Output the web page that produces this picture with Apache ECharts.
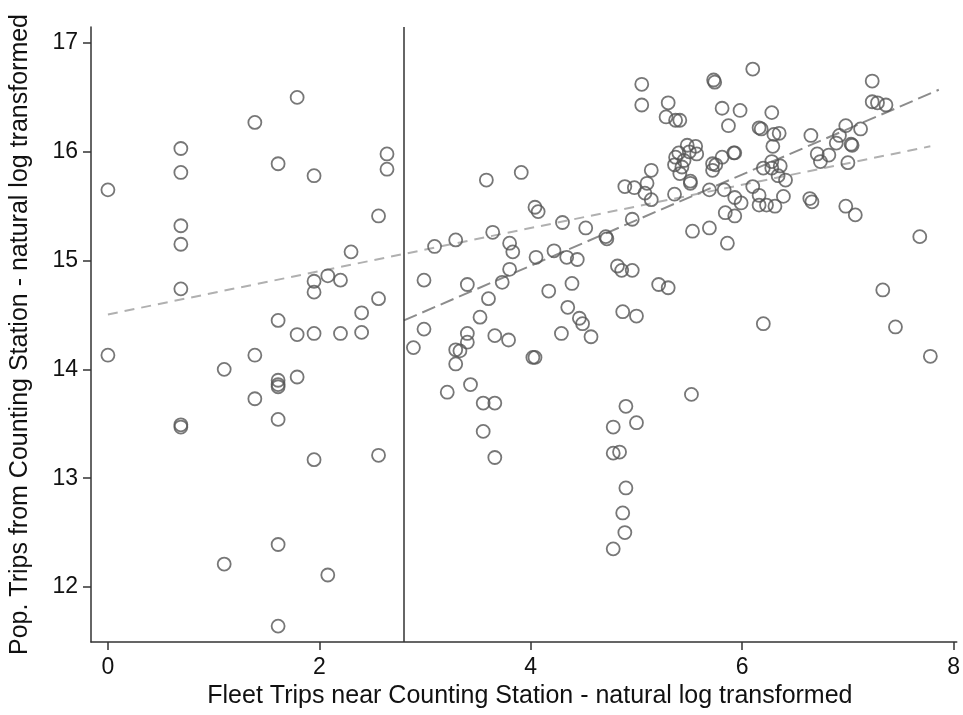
<!DOCTYPE html>
<html>
<head>
<meta charset="utf-8">
<script src="https://cdn.jsdelivr.net/npm/echarts@6/dist/echarts.min.js"></script>
<style>
html,body{margin:0;padding:0;background:#fff;}
#chart{width:963px;height:715px;}
</style>
</head>
<body>
<div id="chart"></div>
<script>
// Left group (x below threshold)
const leftX = [0,0,0.69,0.69,0.69,0.69,0.69,0.69,0.69,1.10,1.10,1.39,1.39,1.39,1.61,1.61,1.61,1.61,1.61,1.61,1.61,1.61,1.79,1.79,1.79,1.95,1.95,1.95,1.95,1.95,2.08,2.08,2.20,2.20,2.30,2.40,2.40,2.56,2.56,2.56,2.64,2.64];
const leftY = [15.65,14.13,16.03,15.81,15.32,15.15,14.74,13.49,13.47,14.00,12.21,16.27,14.13,13.73,15.89,14.45,13.90,13.86,13.84,13.54,12.39,11.64,16.50,14.32,13.93,15.78,14.81,14.71,14.33,13.17,14.86,12.11,14.82,14.33,15.08,14.52,14.34,15.41,14.65,13.21,15.98,15.84];

// Right group (x above threshold)
const rightX = [5.05,5.05,5.30,5.28,5.37,5.41,3.58,3.91,4.04,4.07,5.14,5.10,4.89,4.98,5.08,5.14,5.36,5.51,5.53,
4.96,4.30,4.52,3.64,3.09,3.29,3.80,3.83,4.71,4.72,4.05,4.22,4.34,4.44,3.80,
2.99,3.40,3.73,4.39,4.82,4.86,4.96,5.21,5.30,
3.60,4.17,3.52,4.35,4.46,4.49,4.87,5.00,
2.99,3.40,3.40,3.66,3.79,4.29,4.57,2.89,3.29,3.33,3.29,4.02,4.04,
3.21,3.43,3.55,3.66,3.55,3.66,5.52,4.90,5.00,4.78,4.78,4.84,4.90,4.87,4.89,4.78,
6.10,5.73,5.74,7.23,5.81,5.98,6.28,5.87,6.16,6.18,6.30,6.35,6.29,7.23,7.28,7.36,
6.65,6.98,7.12,6.92,6.89,7.03,7.04,6.71,6.82,6.74,7.00,
5.48,5.56,5.40,5.50,5.57,5.37,5.45,5.36,5.43,5.41,5.51,
5.72,5.75,5.72,5.81,5.92,5.93,5.69,5.83,5.93,5.99,5.84,5.93,5.69,5.86,
6.10,6.16,6.20,6.28,6.28,6.36,6.34,6.41,6.39,6.16,6.23,6.31,6.64,6.66,6.98,7.07,
7.68,6.20,7.33,7.45,7.78];
const rightY = [16.62,16.43,16.45,16.32,16.29,16.29,15.74,15.81,15.49,15.45,15.83,15.71,15.68,15.67,15.62,15.56,15.61,15.71,15.27,
15.38,15.35,15.30,15.26,15.13,15.19,15.16,15.08,15.22,15.20,15.03,15.09,15.03,15.01,14.92,
14.82,14.78,14.80,14.79,14.95,14.91,14.91,14.78,14.75,
14.65,14.72,14.48,14.57,14.47,14.42,14.53,14.49,
14.37,14.33,14.25,14.31,14.27,14.33,14.30,14.20,14.18,14.17,14.05,14.11,14.11,
13.79,13.86,13.69,13.69,13.43,13.19,13.77,13.66,13.51,13.47,13.23,13.24,12.91,12.68,12.50,12.35,
16.76,16.66,16.64,16.65,16.40,16.38,16.36,16.24,16.22,16.21,16.16,16.17,16.05,16.46,16.45,16.43,
16.15,16.24,16.21,16.15,16.08,16.07,16.06,15.98,15.97,15.91,15.90,
16.06,16.05,15.99,16.00,15.98,15.95,15.92,15.88,15.86,15.80,15.73,
15.89,15.88,15.83,15.95,15.99,15.99,15.65,15.65,15.58,15.53,15.44,15.41,15.30,15.16,
15.68,15.60,15.85,15.91,15.85,15.87,15.78,15.74,15.59,15.51,15.51,15.50,15.57,15.54,15.50,15.42,
15.22,14.42,14.73,14.39,14.12];

// Fitted lines (end points)
const fitAllX = [0, 7.78];
const fitAllY = [14.505, 16.05];
const fitRightX = [2.8, 7.86];
const fitRightY = [14.45, 16.57];
const cutoffX = 2.8;

const xTicks = [0, 2, 4, 6, 8];
const yTicks = [12, 13, 14, 15, 16, 17];

const FONT = 'Liberation Sans, Arial, Helvetica, sans-serif';
const pts = [];
leftX.forEach((x, i) => pts.push([x, leftY[i]]));
rightX.forEach((x, i) => pts.push([x, rightY[i]]));

const chart = echarts.init(document.getElementById('chart'), null, {renderer: 'canvas'});
chart.setOption({
  animation: false,
  backgroundColor: '#fff',
  grid: {left: 91, right: 3, top: 27, bottom: 73, containLabel: false},
  xAxis: {
    type: 'value', min: -0.16, max: 8.03,
    name: 'Fleet Trips near Counting Station - natural log transformed',
    nameLocation: 'middle', nameGap: 41,
    nameTextStyle: {fontFamily: FONT, fontSize: 25, color: '#111', padding: [0, 0, 0, 12]},
    splitLine: {show: false},
    axisLine: {show: true, onZero: false, lineStyle: {color: '#333', width: 1.5}},
    axisTick: {show: true, length: 8, lineStyle: {color: '#333', width: 1.5}, customValues: xTicks},
    axisLabel: {fontFamily: FONT, fontSize: 23, color: '#111', margin: 14, customValues: xTicks}
  },
  yAxis: {
    type: 'value', min: 11.494, max: 17.147,
    name: 'Pop. Trips from Counting Station - natural log transformed',
    nameLocation: 'middle', nameGap: 58, nameRotate: 90,
    nameTextStyle: {fontFamily: FONT, fontSize: 25, color: '#111'},
    splitLine: {show: false},
    axisLine: {show: true, onZero: false, lineStyle: {color: '#333', width: 1.5}},
    axisTick: {show: true, length: 8, lineStyle: {color: '#333', width: 1.5}, customValues: yTicks},
    axisLabel: {fontFamily: FONT, fontSize: 23, color: '#111', margin: 13, customValues: yTicks}
  },
  series: [
    {
      type: 'line', data: fitAllX.map((x, i) => [x, fitAllY[i]]), symbol: 'none', z: 1,
      lineStyle: {color: '#b0b0b0', width: 2, type: [10, 7]}, silent: true
    },
    {
      type: 'line', data: fitRightX.map((x, i) => [x, fitRightY[i]]), symbol: 'none', z: 1,
      lineStyle: {color: '#8c8c8c', width: 2, type: [14, 6]}, silent: true
    },
    {
      type: 'scatter', data: pts, symbol: 'circle', symbolSize: 13, z: 3,
      itemStyle: {color: 'rgba(0,0,0,0)', borderColor: '#555', borderWidth: 1.8},
      markLine: {
        silent: true, symbol: 'none', label: {show: false},
        lineStyle: {color: '#333', width: 1.5, type: 'solid'},
        data: [{xAxis: cutoffX}]
      }
    }
  ]
});
</script>
</body>
</html>
